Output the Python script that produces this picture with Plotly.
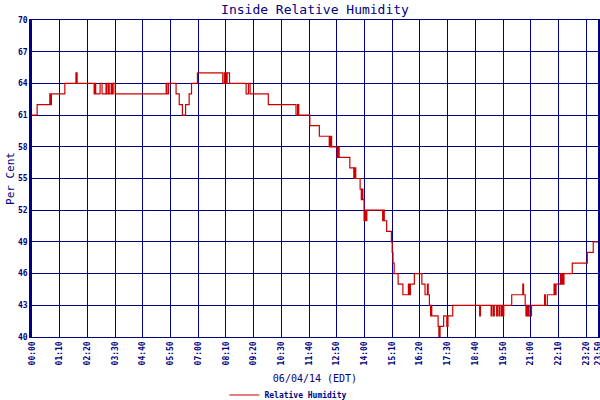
import plotly.graph_objects as go

DAY = "2014-06-04"

# change points of the humidity trace (value holds until next time)
times = [
    "00:00", "00:13", "00:45", "00:47", "00:49", "01:23", "01:51", "01:54",
    "02:37", "02:39", "02:41", "02:52", "02:57", "03:07", "03:09", "03:13",
    "03:15", "03:20", "03:22", "03:25", "03:30", "05:39", "05:41", "05:45",
    "06:04", "06:12", "06:20", "06:28", "06:37", "06:43", "06:58", "08:02",
    "08:06", "08:10", "08:13", "08:19", "09:01", "09:07", "09:11", "09:57",
    "11:07", "11:11", "11:14", "11:42", "12:06", "12:31", "12:34", "12:37",
    "12:51", "12:53", "12:56", "13:23", "13:33", "13:35", "13:38", "13:49",
    "13:52", "13:54", "13:56", "13:59", "14:01", "14:03", "14:06", "14:46",
    "14:48", "14:50", "14:56", "15:08", "15:10", "15:12", "15:15", "15:25",
    "15:37", "15:51", "15:53", "15:56", "16:06", "16:25", "16:33", "16:39",
    "16:41", "16:44", "16:47", "16:48", "16:50", "17:06", "17:08", "17:11",
    "17:20", "17:28", "17:31", "17:43", "18:51", "18:53", "19:20", "19:22",
    "19:26", "19:28", "19:34", "19:36", "19:40", "19:42", "19:46", "19:48",
    "19:50", "19:52", "20:12", "20:40", "20:42", "20:46", "20:48", "20:50",
    "20:52", "20:54", "20:56", "21:02", "21:35", "21:37", "21:42", "21:59",
    "22:01", "22:04", "22:15", "22:17", "22:20", "22:22", "22:24", "22:45",
    "23:23", "23:38", "23:50",
]
humidity = [
    61, 62, 63, 62, 63, 64, 65, 64,
    63, 64, 63, 64, 63, 64, 63, 64,
    63, 64, 63, 64, 63, 64, 63, 64,
    63, 62, 61, 62, 63, 64, 65, 64,
    65, 64, 65, 64, 63, 64, 63, 62,
    61, 62, 61, 60, 59, 58, 59, 58,
    57, 58, 57, 56, 55, 56, 55, 54,
    53, 54, 53, 51, 52, 51, 52, 51,
    52, 51, 50, 49, 48, 47, 46, 45,
    44, 45, 44, 45, 46, 45, 44, 45,
    44, 43, 42, 43, 42, 41, 40, 41,
    42, 41, 42, 43, 42, 43, 42, 43,
    42, 43, 42, 43, 42, 43, 42, 43,
    42, 43, 44, 45, 44, 43, 42, 43,
    42, 43, 42, 43, 44, 43, 44, 45,
    44, 45, 46, 45, 46, 45, 46, 47,
    48, 49, 49,
]

tick_labels = [
    "00:00", "01:10", "02:20", "03:30", "04:40", "05:50", "07:00", "08:10",
    "09:20", "10:30", "11:40", "12:50", "14:00", "15:10", "16:20", "17:30",
    "18:40", "19:50", "21:00", "22:10", "23:20", "23:50",
]

NAVY = "#000080"
MONO = "DejaVu Sans Mono"

fig = go.Figure(
    go.Scatter(
        x=[f"{DAY} {t}" for t in times],
        y=humidity,
        mode="lines",
        line=dict(color="#cc0000", width=1.2, shape="hv"),
        name="Relative Humidity",
    )
)

fig.update_layout(
    width=600,
    height=400,
    margin=dict(l=32, r=2, t=20, b=63, autoexpand=False),
    paper_bgcolor="white",
    plot_bgcolor="white",
    title=dict(
        text="Inside Relative Humidity",
        x=0.5, xref="paper", xanchor="center",
        y=0.9775, yref="container", yanchor="middle",
        font=dict(family=MONO, size=13, color=NAVY),
    ),
    showlegend=True,
    legend=dict(
        orientation="h",
        x=0.34, xanchor="left",
        y=-0.183, yanchor="middle",
        font=dict(family=MONO, size=8, color=NAVY, weight="bold"),
        bgcolor="rgba(0,0,0,0)",
    ),
)

fig.update_xaxes(
    type="date",
    range=[f"{DAY} 00:00", f"{DAY} 23:50"],
    tickvals=[f"{DAY} {t}" for t in tick_labels],
    ticktext=tick_labels,
    tickangle=-90,
    ticklabeloverflow="allow",
    tickfont=dict(family=MONO, size=8, color=NAVY, weight="bold"),
    showgrid=True, gridcolor=NAVY, gridwidth=1.3,
    showline=True, linecolor=NAVY, linewidth=1.3, mirror=True,
    zeroline=False,
    ticks="",
    title=dict(text="06/04/14 (EDT)", font=dict(family=MONO, size=10, color=NAVY), standoff=10),
    automargin=False,
)

fig.update_yaxes(
    range=[40, 70],
    tick0=40, dtick=3,
    tickfont=dict(family=MONO, size=8, color=NAVY, weight="bold"),
    showgrid=True, gridcolor=NAVY, gridwidth=1.3,
    showline=True, linecolor=NAVY, linewidth=2.5, mirror=True,
    zeroline=False,
    ticks="",
    title=dict(text="Per Cent", font=dict(family=MONO, size=11, color=NAVY), standoff=2),
    automargin=False,
)

# the page body has a default 8px margin; drop it so the figure sits at 0,0
fig.write_html(
    "out.html",
    config={"displayModeBar": False},
    post_script="document.body.style.margin = '0';",
)
